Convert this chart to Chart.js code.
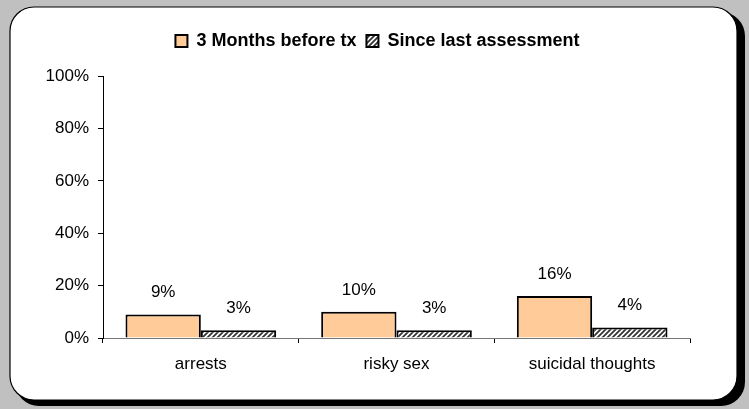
<!DOCTYPE html>
<html><head><meta charset="utf-8">
<script src="https://cdn.jsdelivr.net/npm/chart.js@4.4.1/dist/chart.umd.min.js"></script>
<style>html,body{margin:0;padding:0;background:#c0c0c0;}#wrap{width:749px;height:409px;}</style>
</head><body><div id="wrap"><canvas id="c" width="749" height="409"></canvas></div>
<script>
const categories = ["arrests", "risky sex", "suicidal thoughts"];
const seriesNames = ["3 Months before tx", "Since last assessment"];
const before = [9, 10, 16];
const since = [3, 3, 4];
const yTicks = [0, 20, 40, 60, 80, 100];

const FONT = '"Liberation Sans", Arial, sans-serif';

function hatch() {
  const s = 5, c = document.createElement('canvas');
  c.width = s; c.height = s;
  const g = c.getContext('2d');
  g.fillStyle = '#ffffff'; g.fillRect(0, 0, s, s);
  g.strokeStyle = '#333333'; g.lineWidth = 1.8;
  g.beginPath();
  g.moveTo(-1, s + 1); g.lineTo(s + 1, -1);
  g.moveTo(-1, 1); g.lineTo(1, -1);
  g.moveTo(s - 1, s + 1); g.lineTo(s + 1, s - 1);
  g.stroke();
  return g.createPattern(c, 'repeat');
}

function rr(ctx, x, y, w, h, r) {
  ctx.beginPath();
  ctx.moveTo(x + r, y);
  ctx.lineTo(x + w - r, y); ctx.arcTo(x + w, y, x + w, y + r, r);
  ctx.lineTo(x + w, y + h - r); ctx.arcTo(x + w, y + h, x + w - r, y + h, r);
  ctx.lineTo(x + r, y + h); ctx.arcTo(x, y + h, x, y + h - r, r);
  ctx.lineTo(x, y + r); ctx.arcTo(x, y, x + r, y, r);
  ctx.closePath();
}

const panelPlugin = {
  id: 'panel',
  beforeDraw(chart) {
    const ctx = chart.ctx;
    ctx.save();
    ctx.fillStyle = '#c0c0c0';
    ctx.fillRect(0, 0, chart.width, chart.height);
    ctx.fillStyle = '#000';
    rr(ctx, 15, 12, 730, 394, 24); ctx.fill();
    ctx.fillStyle = '#fff';
    rr(ctx, 10, 7, 727, 393, 24); ctx.fill();
    ctx.strokeStyle = '#000'; ctx.lineWidth = 1.2;
    ctx.stroke();
    ctx.restore();
  }
};

const labelPlugin = {
  id: 'vlabels',
  afterDatasetsDraw(chart) {
    const ctx = chart.ctx;
    ctx.save();
    ctx.font = '17px ' + FONT;
    ctx.fillStyle = '#000';
    ctx.textAlign = 'center';
    ctx.textBaseline = 'middle';
    chart.data.datasets.forEach((ds, di) => {
      chart.getDatasetMeta(di).data.forEach((bar, i) => {
        ctx.fillText(ds.data[i] + '%', bar.x, bar.y - 22);
      });
    });
    ctx.restore();
  }
};

new Chart(document.getElementById('c'), {
  type: 'bar',
  data: {
    labels: categories,
    datasets: [
      { label: seriesNames[0], data: before, backgroundColor: '#FFCC99', borderColor: '#000', borderWidth: 2, borderSkipped: 'bottom' },
      { label: seriesNames[1], data: since, backgroundColor: hatch(), borderColor: '#000', borderWidth: 2, borderSkipped: 'bottom' }
    ]
  },
  options: {
    responsive: false,
    animation: false,
    devicePixelRatio: 1,
    layout: { padding: { top: 22, right: 0, bottom: 0, left: 6 } },
    datasets: { bar: { categoryPercentage: 0.77, barPercentage: 1.0 } },
    plugins: {
      legend: {
        display: true,
        position: 'top',
        weight: 3000,
        labels: {
          font: { family: FONT, size: 18, weight: 'bold' },
          color: '#000',
          boxWidth: 12, boxHeight: 12,
          padding: 10,
          useBorderRadius: false
        }
      },
      title: {
        display: true,
        text: '',
        font: { size: 1 },
        padding: { top: 0, bottom: 15 }
      },
      tooltip: { enabled: false }
    },
    scales: {
      x: {
        grid: { display: true, drawOnChartArea: false, drawTicks: true, tickLength: 5, color: '#000', offset: true },
        border: { display: true, color: '#777', width: 1 },
        ticks: { font: { family: FONT, size: 17 }, color: '#000', padding: 11 },
        afterFit(s) { s.height = 71; }
      },
      y: {
        min: 0, max: 100,
        afterBuildTicks(s) { s.ticks = yTicks.map(v => ({ value: v })); },
        grid: { display: true, drawOnChartArea: false, drawTicks: true, tickLength: 5, color: '#000' },
        border: { display: true, color: '#000', width: 1 },
        ticks: { font: { family: FONT, size: 17 }, color: '#000', padding: 9, callback: v => v + '%' },
        afterFit(s) { s.width = 97; }
      },
      spacer: {
        type: 'linear',
        position: 'right',
        display: true,
        grid: { display: false, drawTicks: false },
        border: { display: false },
        ticks: { display: false },
        afterFit(s) { s.width = 59; }
      }
    }
  },
  plugins: [panelPlugin, labelPlugin]
});
</script></body></html>
